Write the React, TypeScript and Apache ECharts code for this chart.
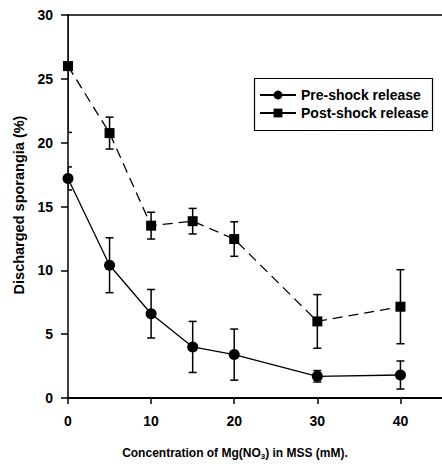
import React, { useEffect, useRef } from "react";
import * as echarts from "echarts";

// Mg(NO3) concentration in MSS (mM)
const concentrations = [0, 5, 10, 15, 20, 30, 40];
// Discharged sporangia (%) — means and error half-widths
const preShockMean = [17.2, 10.4, 6.6, 4.0, 3.4, 1.7, 1.8];
const preShockErr = [0.9, 2.15, 1.9, 2.0, 2.0, 0.45, 1.1];
const postShockMean = [26.0, 20.75, 13.5, 13.85, 12.45, 6.0, 7.15];
const postShockErr = [5.2, 1.25, 1.05, 1.0, 1.35, 2.1, 2.9];

const yTicks = { min: 0, max: 30, interval: 5 };
const xTicks = { min: 0, max: 45, interval: 10 };

const FONT = "'Liberation Sans', Arial, Helvetica, sans-serif";

function errorData(means: number[], errs: number[]) {
  return concentrations.map((c, i) => [c, means[i] - errs[i], means[i] + errs[i]]);
}

function renderErrorBar(params: any, api: any) {
  const x = api.value(0);
  const top = api.coord([x, api.value(2)]);
  const bot = api.coord([x, api.value(1)]);
  const w = 4;
  const style = { stroke: "#000", lineWidth: 1.5 };
  return {
    type: "group",
    children: [
      { type: "line", shape: { x1: top[0], y1: top[1], x2: bot[0], y2: bot[1] }, style },
      { type: "line", shape: { x1: top[0] - w, y1: top[1], x2: top[0] + w, y2: top[1] }, style },
      { type: "line", shape: { x1: bot[0] - w, y1: bot[1], x2: bot[0] + w, y2: bot[1] }, style },
    ],
  };
}

export default function App() {
  const ref = useRef<HTMLDivElement>(null);

  useEffect(() => {
    if (!ref.current) return;
    const chart = echarts.init(ref.current, null, { renderer: "svg" });
    const tickLabel = { color: "#000", fontFamily: FONT, fontWeight: "bold" as const, fontSize: 14 };

    chart.setOption({
      animation: false,
      backgroundColor: "#fff",
      grid: { left: 68, top: 15, bottom: 66, right: -8.5 },
      xAxis: [
        {
          type: "value",
          ...xTicks,
          axisLine: { lineStyle: { color: "#000", width: 2 } },
          axisTick: { length: 6, lineStyle: { color: "#000", width: 1.5 } },
          axisLabel: { ...tickLabel, margin: 16, showMaxLabel: false },
          splitLine: { show: false },
        },
        {
          type: "value",
          position: "top",
          ...xTicks,
          axisLine: { show: true, lineStyle: { color: "#000", width: 1.5 } },
          axisTick: { show: false },
          axisLabel: { show: false },
          splitLine: { show: false },
        },
      ],
      yAxis: {
        type: "value",
        ...yTicks,
        axisLine: { show: true, lineStyle: { color: "#000", width: 1.5 } },
        axisTick: { show: true, length: 7, lineStyle: { color: "#000", width: 1.5 } },
        axisLabel: { ...tickLabel, margin: 15 },
        splitLine: { show: false },
      },
      legend: {
        orient: "vertical",
        left: 259,
        top: 88,
        padding: 0,
        itemWidth: 36,
        itemHeight: 11,
        itemGap: 4,
        textStyle: { color: "#000", fontFamily: FONT, fontWeight: "bold", fontSize: 14 },
        data: [
          { name: "Pre-shock release" },
          { name: "Post-shock release", lineStyle: { type: "solid" } },
        ],
      },
      graphic: [
        {
          type: "rect",
          shape: { x: 254.5, y: 78.5, width: 178, height: 52 },
          style: { fill: "none", stroke: "#000", lineWidth: 1.2 },
        },
        {
          type: "text",
          x: 19,
          y: 205,
          rotation: Math.PI / 2,
          style: {
            text: "Discharged sporangia (%)",
            font: `bold 14.5px ${FONT}`,
            fill: "#000",
            align: "center",
            verticalAlign: "middle",
          },
        },
        {
          type: "text",
          x: 235,
          y: 453,
          style: {
            text: "{t|Concentration of Mg(NO}{s|3}{t|) in MSS (mM).}",
            align: "center",
            verticalAlign: "middle",
            rich: {
              t: { fontFamily: FONT, fontWeight: "bold", fontSize: 12, fill: "#000" },
              s: { fontFamily: FONT, fontWeight: "bold", fontSize: 8, fill: "#000", padding: [6, 0, 0, 0] },
            },
          },
        },
      ],
      series: [
        {
          name: "Pre-shock release",
          type: "line",
          data: concentrations.map((c, i) => [c, preShockMean[i]]),
          symbol: "circle",
          symbolSize: 11,
          itemStyle: { color: "#000" },
          lineStyle: { color: "#000", width: 1.3 },
          z: 3,
        },
        {
          name: "Post-shock release",
          type: "line",
          data: concentrations.map((c, i) => [c, postShockMean[i]]),
          symbol: "rect",
          symbolSize: 10,
          itemStyle: { color: "#000" },
          lineStyle: { color: "#000", width: 1.3, type: [10, 6] },
          z: 3,
        },
        {
          type: "custom",
          renderItem: renderErrorBar,
          data: errorData(preShockMean, preShockErr),
          encode: { x: 0, y: [1, 2] },
          clip: true,
          silent: true,
          z: 2,
        },
        {
          type: "custom",
          renderItem: renderErrorBar,
          data: errorData(postShockMean, postShockErr),
          encode: { x: 0, y: [1, 2] },
          clip: true,
          silent: true,
          z: 2,
        },
      ],
    });

    return () => chart.dispose();
  }, []);

  return (
    <div
      ref={ref}
      style={{ position: "fixed", left: 0, top: 0, width: 442, height: 464, background: "#fff" }}
    />
  );
}
